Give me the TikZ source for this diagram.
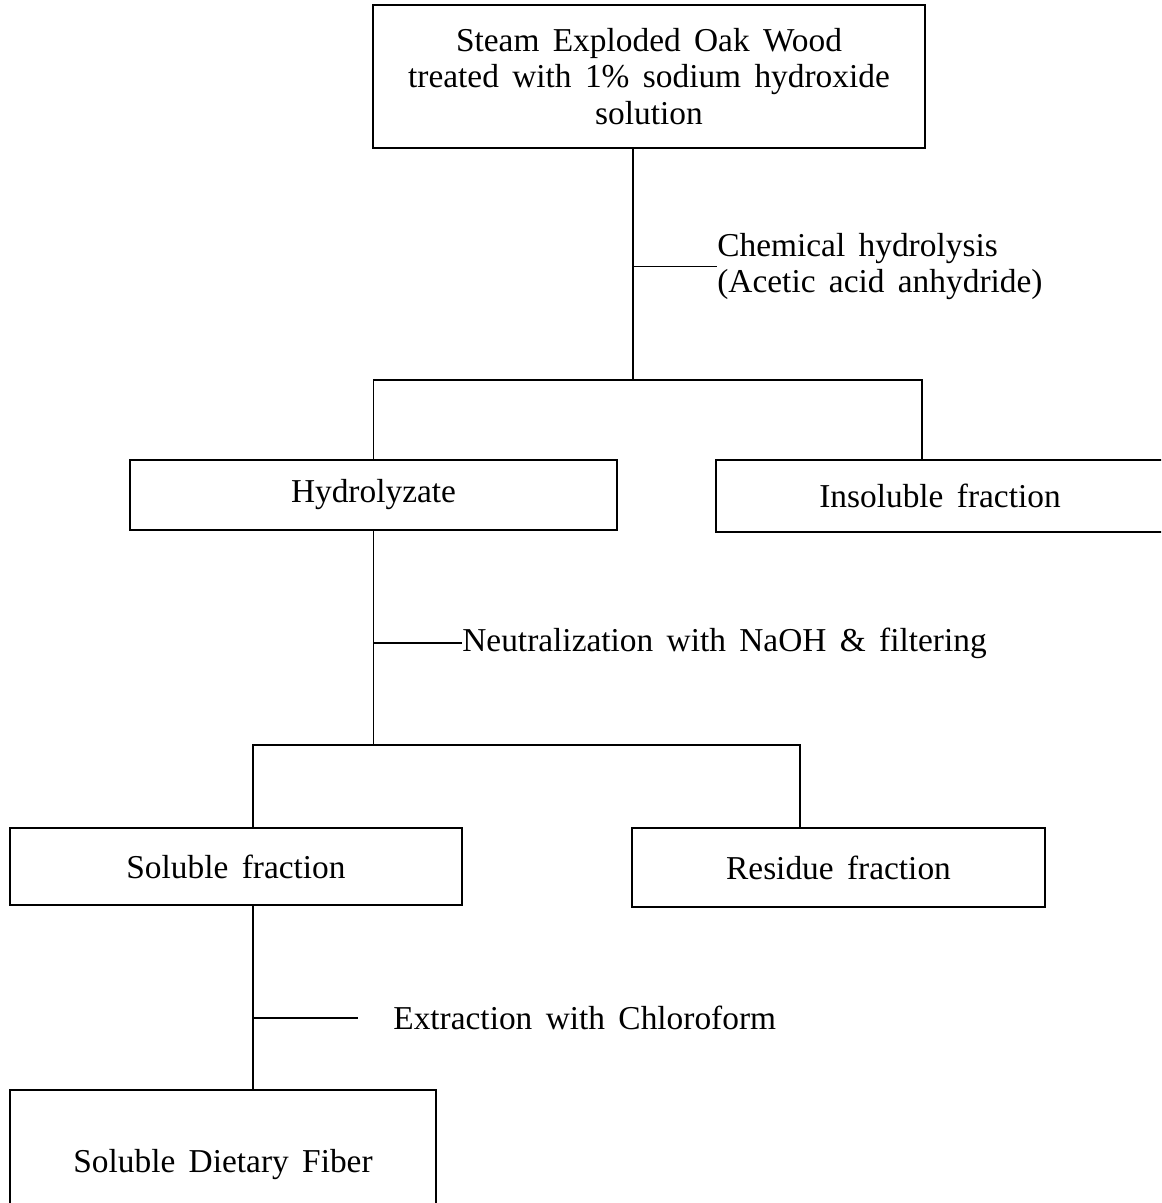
\documentclass[tikz,border=0pt]{standalone}
\usepackage{fontspec}
\setmainfont{Liberation Serif}[WordSpace=1.6]
\usetikzlibrary{positioning}
\tikzset{
flownode/.style={
  draw=black,
  line width=1.1pt,
  align=center,
  inner sep=0pt,
  font=\fontsize{19}{21}\selectfont
},
flowline/.style={
  line width=1.1pt,
  draw=black
},
steplabel/.style={
  anchor=west,
  align=left,
  inner sep=0pt,
  font=\fontsize{19}{21}\selectfont
}
}

\begin{document}
\begin{tikzpicture}[x=0.02cm,y=-0.02cm]
\useasboundingbox (0,0) rectangle (1161,1203);
\clip (0,0) rectangle (1161,1203);

\node[flownode, minimum width=11.04cm, minimum height=2.86cm] (src) at (649,76.5) {Steam Exploded Oak Wood\\treated with 1\% sodium hydroxide\\solution};
\node[flownode, minimum width=9.74cm, minimum height=1.4cm] (hydro) at (373.5,495) {Hydrolyzate};
\node[flownode, minimum width=8.96cm, minimum height=1.44cm] (insol) at (940,496) {Insoluble fraction};
\node[flownode, minimum width=9.04cm, minimum height=1.54cm] (sol) at (236,866.5) {Soluble fraction};
\node[flownode, minimum width=8.26cm, minimum height=1.58cm] (resid) at (838.5,867.5) {Residue fraction};
\node[flownode, minimum width=8.52cm, minimum height=3.0cm] (sdf) at (223,1165) {Soluble Dietary Fiber};

\node[steplabel] (chem) at (717,266.5) {Chemical hydrolysis\\(Acetic acid anhydride)};
\node[steplabel] (neut) at (462,643) {Neutralization with NaOH \& filtering};
\node[steplabel] (extr) at (393,1018) {Extraction with Chloroform};

% branch points
\coordinate (s1) at (633,380);
\coordinate (b1r) at (922,380);
\coordinate (b2l) at (253,745);
\coordinate (b2r) at (800,745);

\draw[flowline] (s1 |- src.south) -- (s1);
\draw[flowline] (hydro.north) |- (b1r) -- (b1r |- insol.north);
\draw[flowline] (s1 |- chem.west) -- (chem.west);

\draw[flowline] (hydro.south) -- (hydro.south |- b2l);
\draw[flowline] (b2l |- sol.north) |- (b2r) -- (b2r |- resid.north);
\draw[flowline] (hydro.south |- neut.west) -- (neut.west);

\draw[flowline] (b2l |- sol.south) -- (b2l |- sdf.north);
\draw[flowline] (b2l |- extr.west) -- ([xshift=-0.7cm]extr.west);

\end{tikzpicture}
\end{document}
